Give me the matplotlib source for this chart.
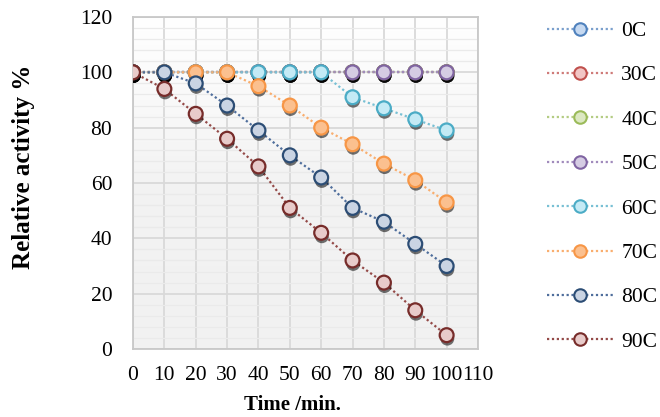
import matplotlib
matplotlib.use("Agg")
import matplotlib.pyplot as plt
import matplotlib.patheffects as pe
import numpy as np
from matplotlib.colors import LinearSegmentedColormap

time = [0, 10, 20, 30, 40, 50, 60, 70, 80, 90, 100]
labels = ["0C", "30C", "40C", "50C", "60C", "70C", "80C", "90C"]
v0 = [100, 100, 100, 100, 100, 100, 100, 100, 100, 100, 100]
v30 = [100, 100, 100, 100, 100, 100, 100, 100, 100, 100, 100]
v40 = [100, 100, 100, 100, 100, 100, 100, 100, 100, 100, 100]
v50 = [100, 100, 100, 100, 100, 100, 100, 100, 100, 100, 100]
v60 = [100, 100, 100, 100, 100, 100, 100, 91, 87, 83, 79]
v70 = [100, 100, 100, 100, 95, 88, 80, 74, 67, 61, 53]
v80 = [100, 100, 96, 88, 79, 70, 62, 51, 46, 38, 30]
v90 = [100, 94, 85, 76, 66, 51, 42, 32, 24, 14, 5]
series = [v0, v30, v40, v50, v60, v70, v80, v90]

edge_colors = ["#4F81BD", "#C0504D", "#9BBB59", "#8064A2", "#4BACC6", "#F79646", "#2C4D75", "#772C2A"]
face_colors = ["#C6D9F1", "#F2C6C5", "#DCE8C2", "#D5CCE3", "#C4EAF5", "#FBC08F", "#CAD4E3", "#E8CBCA"]
line_colors = ["#7BA0CD", "#CF7B79", "#B4CC83", "#A18BBC", "#78C0D4", "#F9AE6F", "#4F6E9C", "#944A48"]

plt.rcParams['font.family'] = ['Liberation Serif', 'DejaVu Serif']

fig = plt.figure(figsize=(6.6, 4.17), dpi=100)
ax = fig.add_axes([133/660, 1-349/417, (478-133)/660, (349-17)/417])

# background gradient
grad = np.linspace(0, 1, 256).reshape(-1, 1)
cmap = LinearSegmentedColormap.from_list("bg", ["#F1F1F1", "#F3F3F3", "#FFFFFF"])
ax.imshow(grad, aspect='auto', cmap=cmap, extent=[0, 1, 0, 1], origin='lower',
          transform=ax.transAxes, zorder=0)

ax.set_xlim(0, 110)
ax.set_ylim(0, 120)
ax.set_xticks(range(0, 111, 10))
ax.set_yticks(range(0, 121, 20))
ax.set_yticks(range(0, 121, 4), minor=True)
ax.grid(True, which='major', color='#D9D9D9', lw=1.3, zorder=0.5)
ax.grid(True, which='minor', axis='y', color='#EAEAEA', lw=0.9, zorder=0.4)
for s in ax.spines.values():
    s.set_color('#C8C8C8')
    s.set_linewidth(1.3)
ax.tick_params(which='both', length=0, labelsize=15.5, colors='black')
ax.tick_params(axis='x', pad=12)
ax.tick_params(axis='y', pad=15)

shadow = [pe.SimplePatchShadow(offset=(0.5, -2.5), shadow_rgbFace='black', alpha=0.55), pe.Normal()]
handles = []
for vals, ec, fc, lc, lab in zip(series, edge_colors, face_colors, line_colors, labels):
    ax.plot(time, vals, ls=(0, (1, 1.2)), lw=1.6, color=lc, zorder=2)
    ax.plot(time, vals, ls='none', marker='o', ms=10, mfc=fc, mec=ec, mew=1.6,
            zorder=3, path_effects=shadow)
    h, = plt.plot([], [], ls=(0, (1, 1.2)), lw=1.6, color=lc, marker='o', ms=9,
                  mfc=fc, mec=ec, mew=1.5, label=lab)
    handles.append(h)

fig.text(292/660, 1-405/417, "Time /min.", fontsize=15, fontweight='bold',
         ha='center', va='center')
fig.text(24/660, 1-167/417, "Relative activity %", fontsize=18, fontweight='bold',
         ha='center', va='center', rotation=90)

fig.legend(handles=handles, loc='upper left', bbox_to_anchor=(547/660, 1-21/417),
           frameon=False, fontsize=15.5, handlelength=3.1, handletextpad=0.35,
           labelspacing=1.13, borderpad=0, borderaxespad=0)

fig.savefig("out.png", dpi=100)
